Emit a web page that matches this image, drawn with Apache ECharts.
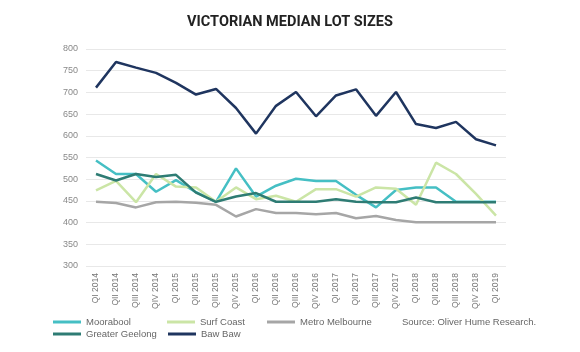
<!DOCTYPE html>
<html>
<head>
<meta charset="utf-8">
<script src="https://cdn.jsdelivr.net/npm/echarts@6/dist/echarts.min.js"></script>
<style>html,body{margin:0;padding:0;background:#fff;}#c{width:580px;height:352px;}</style>
</head>
<body>
<div id="c"></div>
<script>
const categories = ['QI 2014','QII 2014','QIII 2014','QIV 2014','QI 2015','QII 2015','QIII 2015','QIV 2015','QI 2016','QII 2016','QIII 2016','QIV 2016','QI 2017','QII 2017','QIII 2017','QIV 2017','QI 2018','QII 2018','QIII 2018','QIV 2018','QI 2019'];
const moorabool = [543,512,512,471,498,470,448,525,460,485,501,496,496,464,435,475,481,481,448,448,448];
const surfCoast = [474,496,447,512,483,481,448,481,454,462,448,477,477,460,481,478,441,538,512,466,416];
const metroMelbourne = [448,445,435,447,448,446,441,414,431,422,422,419,422,410,415,406,401,401,401,401,401];
const greaterGeelong = [512,497,512,505,510,469,448,460,468,448,448,448,454,448,447,447,458,447,447,447,447];
const bawBaw = [711,770,757,745,722,695,708,664,605,669,701,645,693,707,646,701,627,618,632,592,578];
const yTicks = {min:300, max:800, interval:50};

const names = ['Moorabool','Surf Coast','Metro Melbourne','Greater Geelong','Baw Baw'];
const colors = ['#45bfc4','#cbe5a6','#a6a6a6','#2e7c74','#1f355f'];
const datas = [moorabool, surfCoast, metroMelbourne, greaterGeelong, bawBaw];
const legendPos = [[53,317],[167,317],[267,317],[53,329],[168,329]];

const chart = echarts.init(document.getElementById('c'));
chart.setOption({
  backgroundColor:'#fff',
  animation:false,
  title:{text:'VICTORIAN MEDIAN LOT SIZES', left:'center', top:10,
    textStyle:{fontFamily:'Roboto', fontSize:14.5, fontWeight:'bold', color:'#222'}},
  grid:{left:86, right:74, top:49, bottom:86, containLabel:false},
  legend: names.map((n,i)=>({data:[n], left:legendPos[i][0], top:legendPos[i][1], icon:'rect',
    itemWidth:28, itemHeight:3, itemGap:5, padding:0,
    textStyle:{fontSize:9.5, color:'#666', fontFamily:'Liberation Sans'}})),
  xAxis:{type:'category', data:categories, boundaryGap:true,
    axisLine:{show:false}, axisTick:{show:false},
    axisLabel:{rotate:90, fontSize:8.5, color:'#777', margin:7, interval:0, fontFamily:'Liberation Sans'}},
  yAxis:{type:'value', min:yTicks.min, max:yTicks.max, interval:yTicks.interval,
    axisLine:{show:false}, axisTick:{show:false},
    axisLabel:{fontSize:9, color:'#888', margin:8, fontFamily:'Liberation Sans'},
    splitLine:{lineStyle:{color:'#e8e8e8', width:1}}},
  graphic:[{type:'text', left:402, top:317,
    style:{text:'Source: Oliver Hume Research.', fontSize:9.5, fill:'#666', fontFamily:'Liberation Sans'}}],
  series: names.map((n,i)=>({name:n, type:'line', data:datas[i], symbol:'none',
    lineStyle:{width:2.5, color:colors[i]}, itemStyle:{color:colors[i]}}))
});
</script>
</body>
</html>
